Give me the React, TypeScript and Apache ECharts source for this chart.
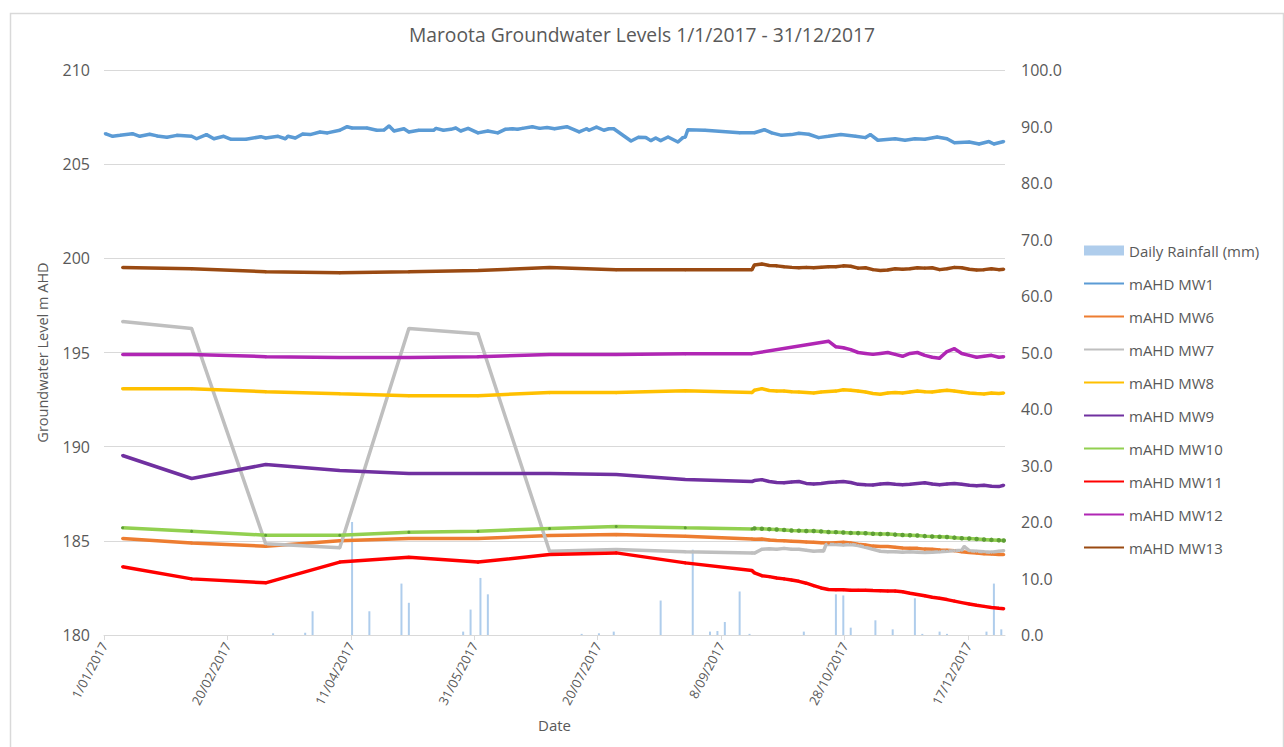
import React, { useEffect, useRef } from "react";
import * as echarts from "echarts";

// Day offsets are days since 1 Jan 2017 (0 = 1/01/2017)
const X_TICK_DAYS = [0, 50, 100, 150, 200, 250, 300, 350];

// Daily rainfall (right axis)
const RAIN_DAYS = [68, 81, 84, 100, 107, 120, 123, 145, 148, 152, 155, 193, 200, 206, 225, 238, 245, 248, 251, 257, 261, 283, 296, 299, 302, 312, 319, 328, 331, 338, 341, 357, 360, 363];
const RAIN_MM = [0.3, 0.4, 4.2, 20.0, 4.2, 9.1, 5.7, 0.6, 4.5, 10.1, 7.2, 0.2, 0.3, 0.6, 6.1, 15.1, 0.6, 0.7, 2.3, 7.7, 0.2, 0.6, 7.2, 7.0, 1.3, 2.6, 1.0, 6.5, 0.2, 0.6, 0.2, 0.6, 9.1, 1.0];

// MW1 logger record
const MW1_DAYS = [0, 3, 6, 11, 14, 18, 21, 25, 29, 35, 37, 41, 44, 48, 51, 57, 63, 65, 70, 73, 74, 77, 80, 83, 87, 90, 95, 98, 100, 106, 110, 113, 115, 117, 121, 123, 127, 133, 134, 137, 140, 142, 144, 147, 151, 155, 159, 162, 165, 167, 169, 173, 176, 179, 182, 187, 192, 195, 196, 199, 202, 204, 206, 213, 216, 219, 221, 223, 225, 228, 232, 234, 235, 236, 243, 250, 257, 263, 267, 270, 274, 278, 281, 285, 289, 293, 298, 304, 308, 310, 313, 320, 324, 328, 332, 337, 341, 344, 350, 354, 358, 360, 364];
const MW1_VALUES = [206.62, 206.48, 206.53, 206.62, 206.48, 206.59, 206.5, 206.43, 206.53, 206.48, 206.35, 206.57, 206.35, 206.48, 206.32, 206.32, 206.46, 206.39, 206.48, 206.35, 206.48, 206.39, 206.6, 206.57, 206.71, 206.66, 206.8, 206.99, 206.92, 206.92, 206.8, 206.82, 207.03, 206.76, 206.88, 206.71, 206.8, 206.8, 206.9, 206.8, 206.85, 206.92, 206.76, 206.9, 206.66, 206.76, 206.66, 206.85, 206.88, 206.85, 206.9, 206.99, 206.9, 206.95, 206.88, 206.99, 206.71, 206.88, 206.8, 206.97, 206.8, 206.88, 206.88, 206.23, 206.43, 206.41, 206.25, 206.39, 206.25, 206.44, 206.18, 206.41, 206.44, 206.83, 206.8, 206.74, 206.67, 206.67, 206.83, 206.66, 206.53, 206.57, 206.64, 206.59, 206.41, 206.48, 206.57, 206.48, 206.41, 206.57, 206.27, 206.35, 206.27, 206.35, 206.32, 206.44, 206.35, 206.14, 206.18, 206.07, 206.2, 206.07, 206.2];

// Monthly manual readings (MW6 - MW13)
const MANUAL_DAYS = [7, 35, 65, 95, 123, 151, 180, 207, 235, 262];
const MW6_MANUAL = [185.12, 184.89, 184.71, 185.01, 185.12, 185.12, 185.28, 185.33, 185.24, 185.1];
const MW7_MANUAL = [196.64, 196.27, 184.84, 184.63, 196.27, 196.0, 184.45, 184.54, 184.42, 184.36];
const MW8_MANUAL = [193.08, 193.08, 192.92, 192.81, 192.71, 192.71, 192.87, 192.87, 192.97, 192.87];
const MW9_MANUAL = [189.53, 188.31, 189.05, 188.73, 188.57, 188.57, 188.57, 188.52, 188.26, 188.15];
const MW10_MANUAL = [185.69, 185.51, 185.3, 185.3, 185.46, 185.51, 185.65, 185.76, 185.69, 185.63];
const MW11_MANUAL = [183.62, 182.98, 182.77, 183.87, 184.13, 183.87, 184.27, 184.36, 183.83, 183.42];
const MW12_MANUAL = [194.89, 194.89, 194.78, 194.73, 194.73, 194.78, 194.89, 194.89, 194.94, 194.94];
const MW13_MANUAL = [199.51, 199.45, 199.29, 199.24, 199.29, 199.35, 199.51, 199.4, 199.4, 199.4];

// Logger records from late September
const LOGGER_DAYS = [263, 266, 269, 272, 275, 278, 281, 284, 287, 290, 293, 296, 299, 302, 305, 308, 311, 314, 317, 320, 323, 326, 329, 332, 335, 338, 341, 344, 347, 350, 353, 356, 359, 362, 364];
const MW6_LOGGER = [185.08, 185.1, 185.05, 185.02, 185.0, 184.98, 184.96, 184.94, 184.92, 184.9, 184.88, 184.9, 184.92, 184.88, 184.82, 184.78, 184.72, 184.7, 184.7, 184.66, 184.62, 184.6, 184.6, 184.56, 184.55, 184.52, 184.5, 184.48, 184.42, 184.38, 184.35, 184.32, 184.3, 184.28, 184.27];
const MW8_LOGGER = [193.0, 193.08, 192.98, 192.95, 192.95, 192.92, 192.9, 192.88, 192.85, 192.9, 192.93, 192.95, 193.02, 193.0, 192.95, 192.9, 192.82, 192.78, 192.85, 192.88, 192.85, 192.9, 192.95, 192.92, 192.9, 192.95, 193.0, 192.95, 192.9, 192.85, 192.82, 192.8, 192.85, 192.82, 192.85];
const MW9_LOGGER = [188.2, 188.25, 188.15, 188.1, 188.08, 188.12, 188.15, 188.05, 188.02, 188.05, 188.1, 188.12, 188.15, 188.1, 188.0, 187.98, 187.97, 188.02, 188.05, 188.0, 187.98, 188.0, 188.05, 188.08, 188.02, 187.98, 188.02, 188.05, 188.0, 187.95, 187.92, 187.95, 187.9, 187.88, 187.95];
const MW10_LOGGER = [185.66, 185.64, 185.62, 185.6, 185.58, 185.55, 185.54, 185.52, 185.52, 185.5, 185.47, 185.46, 185.44, 185.42, 185.41, 185.4, 185.38, 185.36, 185.36, 185.33, 185.31, 185.3, 185.28, 185.25, 185.23, 185.22, 185.2, 185.17, 185.14, 185.12, 185.1, 185.07, 185.05, 185.03, 185.02];
const MW11_LOGGER = [183.3, 183.15, 183.1, 183.03, 182.98, 182.92, 182.85, 182.75, 182.62, 182.5, 182.42, 182.4, 182.4, 182.38, 182.37, 182.38, 182.36, 182.35, 182.34, 182.33, 182.3, 182.22, 182.15, 182.08, 182.0, 181.95, 181.88, 181.8, 181.72, 181.65, 181.58, 181.52, 181.46, 181.42, 181.4];
const MW13_LOGGER = [199.65, 199.7, 199.62, 199.6, 199.55, 199.52, 199.5, 199.52, 199.5, 199.53, 199.55, 199.55, 199.6, 199.58, 199.48, 199.5, 199.4, 199.35, 199.38, 199.45, 199.42, 199.45, 199.5, 199.48, 199.5, 199.4, 199.45, 199.52, 199.5, 199.42, 199.38, 199.4, 199.45, 199.4, 199.42];
const MW7_LOGGER_DAYS = [263, 266, 269, 272, 275, 278, 281, 284, 287, 290, 291, 292, 296, 299, 302, 305, 308, 311, 314, 317, 320, 323, 326, 329, 332, 335, 338, 341, 344, 347, 348, 350, 353, 356, 359, 362, 364];
const MW7_LOGGER = [184.35, 184.55, 184.58, 184.55, 184.6, 184.55, 184.55, 184.5, 184.45, 184.47, 184.46, 184.8, 184.8, 184.78, 184.8, 184.75, 184.65, 184.55, 184.45, 184.42, 184.42, 184.4, 184.42, 184.4, 184.38, 184.4, 184.42, 184.45, 184.48, 184.5, 184.7, 184.48, 184.45, 184.42, 184.4, 184.45, 184.48];
const MW12_LOGGER_DAYS = [293, 296, 299, 302, 305, 308, 311, 314, 317, 320, 323, 326, 329, 332, 335, 338, 341, 344, 347, 350, 353, 356, 359, 362, 364];
const MW12_LOGGER = [195.6, 195.3, 195.25, 195.15, 195.0, 194.95, 194.9, 194.95, 195.0, 194.9, 194.8, 194.95, 195.0, 194.85, 194.75, 194.7, 195.05, 195.2, 194.95, 194.85, 194.75, 194.8, 194.85, 194.75, 194.78];

const RAIN_NAME = "Daily Rainfall (mm)";
const LOGGER_START = 263;
const LINES = [
  { name: "mAHD MW1", color: "#5B9BD5", marker: "#5B9BD5", days: MW1_DAYS, values: MW1_VALUES },
  { name: "mAHD MW6", color: "#ED7D31", marker: "#ED7D31", days: [...MANUAL_DAYS, ...LOGGER_DAYS], values: [...MW6_MANUAL, ...MW6_LOGGER] },
  { name: "mAHD MW7", color: "#BFBFBF", marker: "#BFBFBF", days: [...MANUAL_DAYS, ...MW7_LOGGER_DAYS], values: [...MW7_MANUAL, ...MW7_LOGGER] },
  { name: "mAHD MW8", color: "#FFC000", marker: "#FFC000", days: [...MANUAL_DAYS, ...LOGGER_DAYS], values: [...MW8_MANUAL, ...MW8_LOGGER] },
  { name: "mAHD MW9", color: "#7030A0", marker: "#7030A0", days: [...MANUAL_DAYS, ...LOGGER_DAYS], values: [...MW9_MANUAL, ...MW9_LOGGER] },
  { name: "mAHD MW10", color: "#92D050", marker: "#5E9E35", days: [...MANUAL_DAYS, ...LOGGER_DAYS], values: [...MW10_MANUAL, ...MW10_LOGGER] },
  { name: "mAHD MW11", color: "#FF0000", marker: "#FF0000", days: [...MANUAL_DAYS, ...LOGGER_DAYS], values: [...MW11_MANUAL, ...MW11_LOGGER] },
  { name: "mAHD MW12", color: "#B026B4", marker: "#B026B4", days: [...MANUAL_DAYS, ...MW12_LOGGER_DAYS], values: [...MW12_MANUAL, ...MW12_LOGGER] },
  { name: "mAHD MW13", color: "#9A4A12", marker: "#9A4A12", days: [...MANUAL_DAYS, ...LOGGER_DAYS], values: [...MW13_MANUAL, ...MW13_LOGGER] },
];

const YEAR_START = Date.UTC(2017, 0, 1);
function dayLabel(day: number): string {
  const d = new Date(YEAR_START + day * 86400000);
  return `${d.getUTCDate()}/${String(d.getUTCMonth() + 1).padStart(2, "0")}/${d.getUTCFullYear()}`;
}

const FONT = "'Open Sans', sans-serif";
const GREY_TEXT = "#595959";

export default function App() {
  const ref = useRef<HTMLDivElement>(null);
  useEffect(() => {
    if (!ref.current) return;
    const chart = echarts.init(ref.current, undefined, { renderer: "svg" });
    const option: any = {
      animation: false,
      backgroundColor: "#ffffff",
      textStyle: { fontFamily: FONT },
      title: {
        text: "Maroota Groundwater Levels 1/1/2017 - 31/12/2017",
        left: "center",
        top: 20,
        textStyle: { fontSize: 19.3, fontWeight: "normal", color: GREY_TEXT, fontFamily: FONT },
      },
      graphic: [
        {
          type: "rect",
          left: 8,
          top: 11,
          shape: { width: 1273, height: 760 },
          style: { fill: "none", stroke: "#D9D9D9", lineWidth: 1.5 },
          silent: true,
        },
      ],
      legend: {
        orient: "vertical",
        left: 1078,
        top: 238,
        itemWidth: 40,
        itemHeight: 10,
        itemGap: 18,
        textStyle: { fontSize: 15, color: GREY_TEXT, fontFamily: FONT },
        data: [
          { name: RAIN_NAME, icon: "rect" },
          ...LINES.map((l) => ({ name: l.name, itemStyle: { opacity: 0 } })),
        ],
      },
      grid: { left: 104, right: 279, top: 70, bottom: 112, containLabel: false },
      xAxis: {
        type: "value",
        min: 0,
        max: 365,
        interval: 50,
        axisLine: { show: true, onZero: false, lineStyle: { color: "#D9D9D9", width: 1 } },
        axisTick: { show: true, length: 5, lineStyle: { color: "#D9D9D9" }, customValues: X_TICK_DAYS },
        axisLabel: {
          customValues: X_TICK_DAYS,
          formatter: (v: number) => dayLabel(v),
          rotate: 62,
          fontSize: 13,
          color: GREY_TEXT,
          margin: 8,
          fontFamily: FONT,
        },
        splitLine: { show: false },
        name: "Date",
        nameLocation: "middle",
        nameGap: 82,
        nameTextStyle: { fontSize: 15, color: GREY_TEXT, fontFamily: FONT },
      },
      yAxis: [
        {
          type: "value",
          min: 180,
          max: 210,
          interval: 5,
          position: "left",
          axisLine: { show: false },
          axisTick: { show: false },
          axisLabel: { fontSize: 16, color: GREY_TEXT, margin: 14, fontFamily: FONT },
          splitLine: { show: true, lineStyle: { color: "#D9D9D9", width: 1 } },
          name: "Groundwater Level m AHD",
          nameLocation: "middle",
          nameGap: 54,
          nameTextStyle: { fontSize: 14.5, color: GREY_TEXT, fontFamily: FONT },
        },
        {
          type: "value",
          min: 0,
          max: 100,
          interval: 10,
          position: "right",
          axisLine: { show: false },
          axisTick: { show: false },
          axisLabel: {
            fontSize: 16,
            color: GREY_TEXT,
            margin: 16,
            fontFamily: FONT,
            formatter: (v: number) => v.toFixed(1),
          },
          splitLine: { show: false },
        },
      ],
      series: [
        {
          type: "bar",
          name: RAIN_NAME,
          yAxisIndex: 1,
          barWidth: 2,
          itemStyle: { color: "#AFCDEC" },
          data: RAIN_DAYS.map((d, i) => [d + 0.5, RAIN_MM[i]]),
          emphasis: { disabled: true },
          z: 1,
        },
        ...LINES.map((l) => ({
          type: "line",
          name: l.name,
          yAxisIndex: 0,
          data: l.days.map((d, i) => [d + 0.5, l.values[i]]),
          symbol: "circle",
          symbolSize: (v: number[]) =>
            l.name === "mAHD MW10" && v[0] >= LOGGER_START ? 4.5 : 3,
          showSymbol: true,
          lineStyle: { width: 3.5, color: l.color },
          itemStyle: { color: l.marker },
          emphasis: { disabled: true },
          z: 3,
        })),
      ],
    };
    chart.setOption(option);
    return () => chart.dispose();
  }, []);
  return (
    <div
      ref={ref}
      style={{ position: "fixed", left: 0, top: 0, width: 1284, height: 747, background: "#fff" }}
    />
  );
}
